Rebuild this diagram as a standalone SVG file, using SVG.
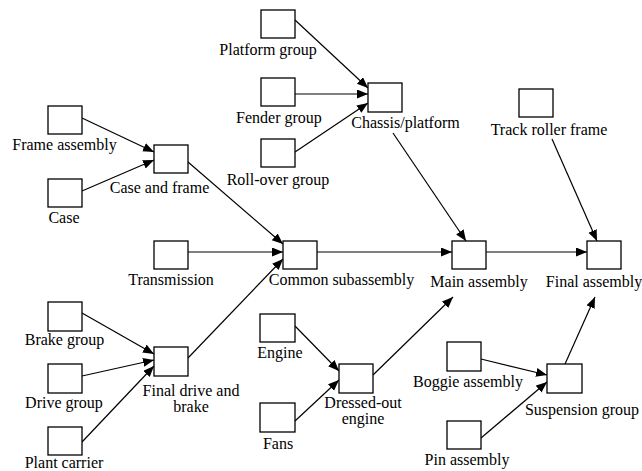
<svg xmlns="http://www.w3.org/2000/svg" width="642" height="471" viewBox="0 0 642 471">
<defs>
<marker id="ah" markerUnits="userSpaceOnUse" markerWidth="12" markerHeight="10" refX="11" refY="4.5" orient="auto">
<path d="M0,0 L11,4.5 L0,9 z" fill="#000"/>
</marker>
<style>
.box{fill:#fff;stroke:#000;stroke-width:1.3}
.lbl{font-size:16px;fill:#000;text-anchor:middle}
.edge{stroke:#000;stroke-width:1.2;fill:none;marker-end:url(#ah)}
</style>
</defs>
<rect width="642" height="471" fill="#fff"/>
<g id="connectors">
<line class="edge" x1="82" y1="118" x2="154" y2="152"/>
<line class="edge" x1="82" y1="191" x2="154" y2="160"/>
<line class="edge" x1="295" y1="20" x2="368" y2="88"/>
<line class="edge" x1="295" y1="94" x2="368" y2="94"/>
<line class="edge" x1="295" y1="152" x2="368" y2="103"/>
<line class="edge" x1="188" y1="162" x2="283" y2="244"/>
<line class="edge" x1="188" y1="252" x2="283" y2="252"/>
<line class="edge" x1="188" y1="358" x2="283" y2="259"/>
<line class="edge" x1="82" y1="313" x2="154" y2="354"/>
<line class="edge" x1="82" y1="376" x2="154" y2="360"/>
<line class="edge" x1="82" y1="442" x2="154" y2="366"/>
<line class="edge" x1="317" y1="252" x2="452" y2="252"/>
<line class="edge" x1="393" y1="133" x2="466" y2="241"/>
<line class="edge" x1="486" y1="252" x2="587" y2="252"/>
<line class="edge" x1="552" y1="139" x2="597" y2="241"/>
<line class="edge" x1="295" y1="326" x2="339" y2="371"/>
<line class="edge" x1="295" y1="421" x2="339" y2="380"/>
<line class="edge" x1="373" y1="375" x2="453" y2="297"/>
<line class="edge" x1="481" y1="359" x2="547" y2="375"/>
<line class="edge" x1="481" y1="438" x2="547" y2="382"/>
<line class="edge" x1="565" y1="364" x2="595" y2="297"/>
</g>
<g font-family="Liberation Serif, Times New Roman, DejaVu Serif, serif">
<g id="platform-group"><rect class="box" x="261" y="10" width="34" height="28"/><text class="lbl" x="268" y="55">Platform group</text></g>
<g id="fender-group"><rect class="box" x="261" y="78" width="34" height="28"/><text class="lbl" x="279" y="123">Fender group</text></g>
<g id="roll-over-group"><rect class="box" x="261" y="139" width="34" height="28"/><text class="lbl" x="278" y="185">Roll-over group</text></g>
<g id="frame-assembly"><rect class="box" x="48" y="106" width="34" height="28"/><text class="lbl" x="64.5" y="150">Frame assembly</text></g>
<g id="case"><rect class="box" x="48" y="179" width="34" height="28"/><text class="lbl" x="64" y="223">Case</text></g>
<g id="case-and-frame"><rect class="box" x="154" y="145" width="34" height="28"/><text class="lbl" x="159.5" y="193">Case and frame</text></g>
<g id="chassis-platform"><rect class="box" x="368" y="83" width="34" height="29"/><text class="lbl" x="405.5" y="128">Chassis/platform</text></g>
<g id="track-roller-frame"><rect class="box" x="519" y="89" width="34" height="28"/><text class="lbl" x="549" y="135">Track roller frame</text></g>
<g id="transmission"><rect class="box" x="154" y="241" width="34" height="28"/><text class="lbl" x="171" y="285">Transmission</text></g>
<g id="common-subassembly"><rect class="box" x="283" y="241" width="34" height="28"/><text class="lbl" x="341.5" y="285">Common subassembly</text></g>
<g id="main-assembly"><rect class="box" x="452" y="241" width="34" height="28"/><text class="lbl" x="479" y="287">Main assembly</text></g>
<g id="final-assembly"><rect class="box" x="587" y="241" width="34" height="28"/><text class="lbl" x="594" y="287">Final assembly</text></g>
<g id="brake-group"><rect class="box" x="48" y="302" width="34" height="29"/><text class="lbl" x="64.5" y="345">Brake group</text></g>
<g id="drive-group"><rect class="box" x="48" y="364" width="34" height="29"/><text class="lbl" x="64" y="408">Drive group</text></g>
<g id="plant-carrier"><rect class="box" x="48" y="427" width="34" height="28"/><text class="lbl" x="64" y="468">Plant carrier</text></g>
<g id="final-drive-and-brake"><rect class="box" x="154" y="347" width="34" height="29"/><text class="lbl" x="191" y="396">Final drive and</text><text class="lbl" x="191" y="412">brake</text></g>
<g id="engine"><rect class="box" x="260" y="314" width="35" height="28"/><text class="lbl" x="280" y="358">Engine</text></g>
<g id="fans"><rect class="box" x="260" y="403" width="35" height="29"/><text class="lbl" x="278" y="449">Fans</text></g>
<g id="dressed-out-engine"><rect class="box" x="339" y="364" width="34" height="29"/><text class="lbl" x="363" y="408">Dressed-out</text><text class="lbl" x="363" y="424">engine</text></g>
<g id="boggie-assembly"><rect class="box" x="447" y="342" width="34" height="29"/><text class="lbl" x="468" y="387">Boggie assembly</text></g>
<g id="pin-assembly"><rect class="box" x="447" y="421" width="34" height="28"/><text class="lbl" x="467" y="465">Pin assembly</text></g>
<g id="suspension-group"><rect class="box" x="547" y="364" width="35" height="29"/><text class="lbl" x="582" y="415">Suspension group</text></g>
</g>
</svg>
